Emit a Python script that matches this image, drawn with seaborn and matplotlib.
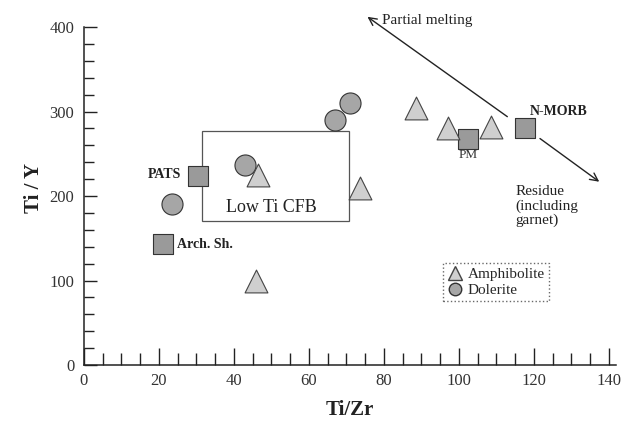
import matplotlib
matplotlib.use("Agg")
import matplotlib.pyplot as plt
import seaborn as sns
import pandas as pd
from matplotlib.ticker import FixedLocator
from matplotlib.lines import Line2D
from matplotlib.patches import Rectangle

sns.set_theme(style="white")
plt.rcParams['font.family'] = ['Liberation Serif', 'DejaVu Serif']

# Data
amph_x = [46.5, 46, 73.5, 88.5, 97, 108.5]
amph_y = [225, 100, 209, 304, 280, 282]
dol_x = [23.5, 43, 67, 71]
dol_y = [190, 237, 290, 310]
ref_names = ["PATS", "Arch. Sh.", "PM", "N-MORB"]
ref_x = [30.5, 21, 102.5, 117.5]
ref_y = [224, 143, 268, 281]
x_major = [0, 20, 40, 60, 80, 100, 120, 140]
y_major = [0, 100, 200, 300, 400]

amph = pd.DataFrame({"x": amph_x, "y": amph_y})
dol = pd.DataFrame({"x": dol_x, "y": dol_y})
ref = pd.DataFrame({"x": ref_x, "y": ref_y, "name": ref_names})

fig = plt.figure(figsize=(6.31, 4.22), dpi=100)
ax = fig.add_axes([0.133, 0.135, 0.844, 0.841])

# Low Ti CFB field
ax.add_patch(Rectangle((31.5, 170), 39.2, 107, fill=False, edgecolor="#555555", lw=0.9, zorder=1))
ax.text(50, 187, "Low Ti CFB", fontsize=13, ha="center", va="center", color="#222222")

sns.scatterplot(data=ref, x="x", y="y", marker="s", s=220, color="#9a9a9a",
                edgecolor="#333333", linewidth=0.8, ax=ax, zorder=3, legend=False)
sns.scatterplot(data=dol, x="x", y="y", marker="o", s=230, color="#a6a6a6",
                edgecolor="#333333", linewidth=0.8, ax=ax, zorder=3, legend=False)
sns.scatterplot(data=amph, x="x", y="y", marker="^", s=270, color="#cfcfcf",
                edgecolor="#444444", linewidth=0.8, ax=ax, zorder=3, legend=False)

# labels for reference compositions
ax.text(26, 225, "PATS", fontsize=10, fontweight="bold", ha="right", va="center", color="#222222")
ax.text(24.8, 143, "Arch. Sh.", fontsize=10, fontweight="bold", ha="left", va="center", color="#222222")
ax.text(102.5, 249, "PM", fontsize=9.5, ha="center", va="center", color="#333333")
ax.text(119, 300, "N-MORB", fontsize=10, fontweight="bold", ha="left", va="center", color="#222222")

# arrows
ax.annotate("", xy=(75, 414), xytext=(113.5, 292),
            arrowprops=dict(arrowstyle="->", color="#222222", lw=1.0, mutation_scale=14))
ax.annotate("", xy=(138, 215), xytext=(121, 270),
            arrowprops=dict(arrowstyle="->", color="#222222", lw=1.0, mutation_scale=14))
ax.text(79.5, 408, "Partial melting", fontsize=11, ha="left", va="center", color="#222222")
ax.text(115, 213, "Residue\n(including\ngarnet)", fontsize=11, ha="left", va="top",
        color="#222222", linespacing=1.1)

ax.set_xlim(0, 142)
ax.set_ylim(0, 420)
for s in ["top", "right"]:
    ax.spines[s].set_visible(False)
ax.spines["left"].set_bounds(0, 400)
ax.spines["bottom"].set_bounds(0, 142)
for s in ["left", "bottom"]:
    ax.spines[s].set_color("#222222")
    ax.spines[s].set_linewidth(1.1)

ax.xaxis.set_major_locator(FixedLocator(x_major))
ax.xaxis.set_minor_locator(FixedLocator([v for v in range(5, 141, 5) if v % 20]))
ax.yaxis.set_major_locator(FixedLocator(y_major))
ax.yaxis.set_minor_locator(FixedLocator([v for v in range(20, 400, 20) if v % 100]))
ax.tick_params(axis="x", which="major", direction="in", length=12, width=1.0, color="#222222",
               labelsize=12, pad=6, bottom=True)
ax.tick_params(axis="x", which="minor", direction="in", length=8.5, width=1.0, color="#222222", bottom=True)
ax.tick_params(axis="y", which="major", direction="in", length=9.5, width=1.0, color="#222222",
               labelsize=12, pad=7, left=True)
ax.tick_params(axis="y", which="minor", direction="in", length=7, width=1.0, color="#222222", left=True)
for lab in ax.get_xticklabels() + ax.get_yticklabels():
    lab.set_color("#333333")

ax.set_xlabel("Ti/Zr", fontsize=15, fontweight="bold", labelpad=8, color="#222222")
ax.set_ylabel("Ti / Y", fontsize=15, fontweight="bold", labelpad=4, color="#222222")

handles = [
    Line2D([], [], marker="^", linestyle="", markersize=10, markerfacecolor="#cfcfcf",
           markeredgecolor="#444444", label="Amphibolite"),
    Line2D([], [], marker="o", linestyle="", markersize=9, markerfacecolor="#a6a6a6",
           markeredgecolor="#333333", label="Dolerite"),
]
leg = ax.legend(handles=handles, loc="upper left", bbox_to_anchor=(0.66, 0.31),
                fontsize=11, frameon=True, fancybox=False, handlelength=0.9,
                handletextpad=0.4, borderpad=0.3, labelspacing=0.15)
leg.get_frame().set_edgecolor("#444444")
leg.get_frame().set_linestyle(":")
leg.get_frame().set_linewidth(1.0)

fig.savefig("out.png", dpi=100)
